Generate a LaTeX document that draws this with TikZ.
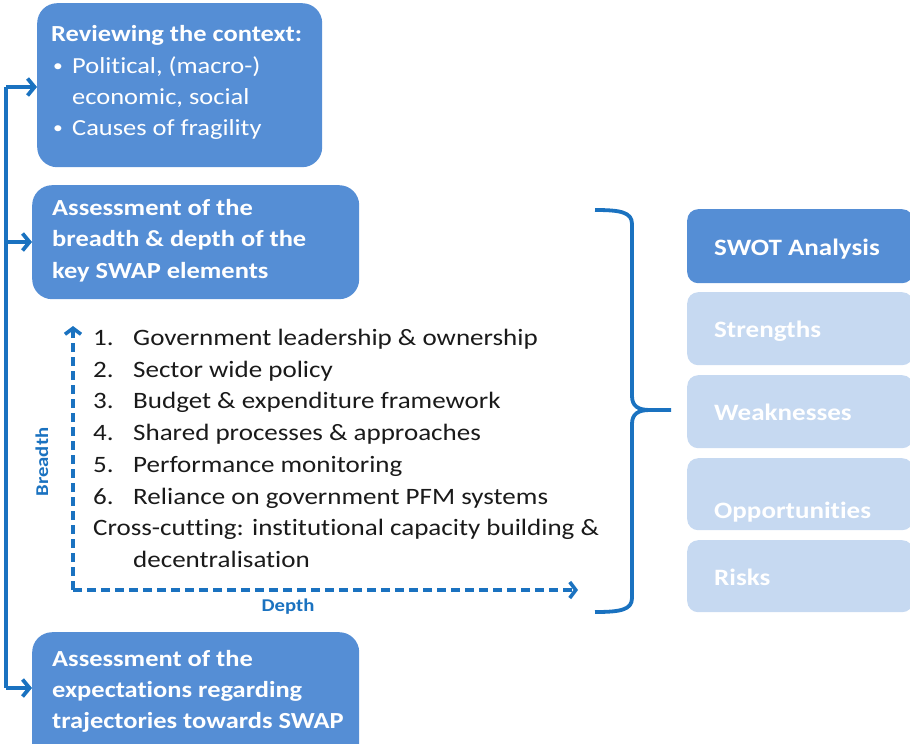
\documentclass[tikz,border=0pt]{standalone}
\usepackage{fontspec}
\setmainfont{Carlito}[FakeStretch=1.15, RawFeature=-liga]
\usetikzlibrary{arrows.meta}
\definecolor{dboxc}{HTML}{558ED5}
\definecolor{lboxc}{HTML}{C6D9F1}
\definecolor{arrc}{HTML}{1A72C0}
\definecolor{listc}{HTML}{1A1A1A}
\begin{document}
\begin{tikzpicture}[x=1pt,y=-1pt,
  bigbox/.style={fill=dboxc, draw=none, rounded corners=20pt, anchor=north west, inner sep=0pt},
  swotdark/.style={fill=dboxc, draw=none, rounded corners=11pt, anchor=north west, inner sep=0pt, minimum width=226pt},
  swotlight/.style={fill=lboxc, draw=none, rounded corners=11pt, anchor=north west, inner sep=0pt, minimum width=226pt},
  boxtxt/.style={anchor=base west, inner sep=0pt, text=white, font=\fontsize{23}{28}\selectfont\bfseries},
  bultxt/.style={anchor=base west, inner sep=0pt, text=white, font=\fontsize{23}{28}\selectfont},
  bulsym/.style={anchor=base west, inner sep=0pt, text=white, font=\fontsize{17}{20}\selectfont},
  listtxt/.style={anchor=base west, inner sep=0pt, text=listc, font=\fontsize{23.5}{28}\selectfont},
  swottxt/.style={anchor=base west, inner sep=0pt, text=white, font=\fontsize{23.5}{28}\selectfont\bfseries},
  axistxt/.style={inner sep=0pt, text=arrc, font=\fontsize{18}{21}\selectfont\bfseries},
  flow/.style={draw=arrc, line width=3.8pt, -{Straight Barb[length=7pt,width=17pt]}},
  flowline/.style={draw=arrc, line width=3.8pt},
  axis/.style={draw=arrc, line width=3.6pt, dash pattern=on 9pt off 5pt, -{Straight Barb[length=6pt,width=16pt]}},
  bracec/.style={draw=arrc, line width=3.8pt, line join=round}
]
\useasboundingbox (0,0) rectangle (910,744);

% left boxes
\node[bigbox, minimum width=285pt, minimum height=164pt] (b1) at (37,3) {};
\node[bigbox, minimum width=327pt, minimum height=114pt] (b2) at (32,185) {};
\node[bigbox, minimum width=327pt, minimum height=132pt] (b3) at (32,632) {};

\node[boxtxt] (t1) at (51,41) {Reviewing the context:};
\node[bulsym] (t1b1) at (53,71) {•};
\node[bultxt] (t1c) at (72,73) {Political, (macro-)};
\node[bultxt] (t1d) at (72,104) {economic, social};
\node[bulsym] (t1b2) at (53,133) {•};
\node[bultxt] (t1e) at (72,135) {Causes of fragility};

\node[boxtxt] (t2a) at (52,215) {Assessment of the};
\node[boxtxt] (t2b) at (52,246) {breadth \& depth of the};
\node[boxtxt] (t2c) at (52,278) {key SWAP elements};

\node[boxtxt] (t3a) at (52,666) {Assessment of the};
\node[boxtxt] (t3b) at (52,697) {expectations regarding};
\node[boxtxt] (t3c) at (52,728) {trajectories towards SWAP};

% flow connector on the left
\coordinate (ltop) at (6,87);
\coordinate (lmid) at (6,242);
\coordinate (lbot) at (6,688);
\draw[flowline] (ltop) -- (lbot);
\draw[flow] (ltop) -- (b1.west |- ltop);
\draw[flow] (lmid) -- (b2.west |- lmid);
\draw[flow] (lbot) -- (b3.west |- lbot);

% list
\node[listtxt] (n1) at (93,345) {1.};
\node[listtxt] (l1) at (133,345) {Government leadership \& ownership};
\node[listtxt] (n2) at (93,377) {2.};
\node[listtxt] (l2) at (133,377) {Sector wide policy};
\node[listtxt] (n3) at (93,408) {3.};
\node[listtxt] (l3) at (133,408) {Budget \& expenditure framework};
\node[listtxt] (n4) at (93,440) {4.};
\node[listtxt] (l4) at (133,440) {Shared processes \& approaches};
\node[listtxt] (n5) at (93,472) {5.};
\node[listtxt] (l5) at (133,472) {Performance monitoring};
\node[listtxt] (n6) at (93,504) {6.};
\node[listtxt] (l6) at (133,504) {Reliance on government PFM systems};
\node[listtxt] (l7) at (93,535) {Cross-cutting: institutional capacity building \&};
\node[listtxt] (l8) at (133,567) {decentralisation};

% breadth / depth axes
\coordinate (corner) at (73,590);
\coordinate (btop) at (73,326);
\coordinate (dend) at (578,590);
\draw[axis] (corner) -- (btop);
\draw[axis] (corner) -- (dend);
\node[axistxt, rotate=90] (breadth) at (42,462) {Breadth};
\node[axistxt] (depth) at (288,607) {Depth};

% brace
\coordinate (brtop) at (595,210);
\coordinate (brtip) at (671,410);
\coordinate (brbot) at (595,612);
\draw[bracec] (brtop) .. controls (620,210) and (632,212) .. (632,224)
  -- (632,396) .. controls (632,406) and (638,410) .. (650,410) -- (brtip);
\draw[bracec] (650,410) .. controls (638,410) and (632,414) .. (632,424)
  -- (632,598) .. controls (632,610) and (620,612) .. (brbot);

% SWOT boxes
\node[swotdark, minimum height=74pt] (s0) at (687,209) {};
\node[swotlight, minimum height=73pt] (s1) at (687,292) {};
\node[swotlight, minimum height=73pt] (s2) at (687,375) {};
\node[swotlight, minimum height=72pt] (s3) at (687,458) {};
\node[swotlight, minimum height=72pt] (s4) at (687,540) {};
\node[swottxt] (st0) at (714,255) {SWOT Analysis};
\node[swottxt] (st1) at (714,337) {Strengths};
\node[swottxt] (st2) at (714,420) {Weaknesses};
\node[swottxt] (st3) at (714,518) {Opportunities};
\node[swottxt] (st4) at (714,585) {Risks};
\end{tikzpicture}
\end{document}
